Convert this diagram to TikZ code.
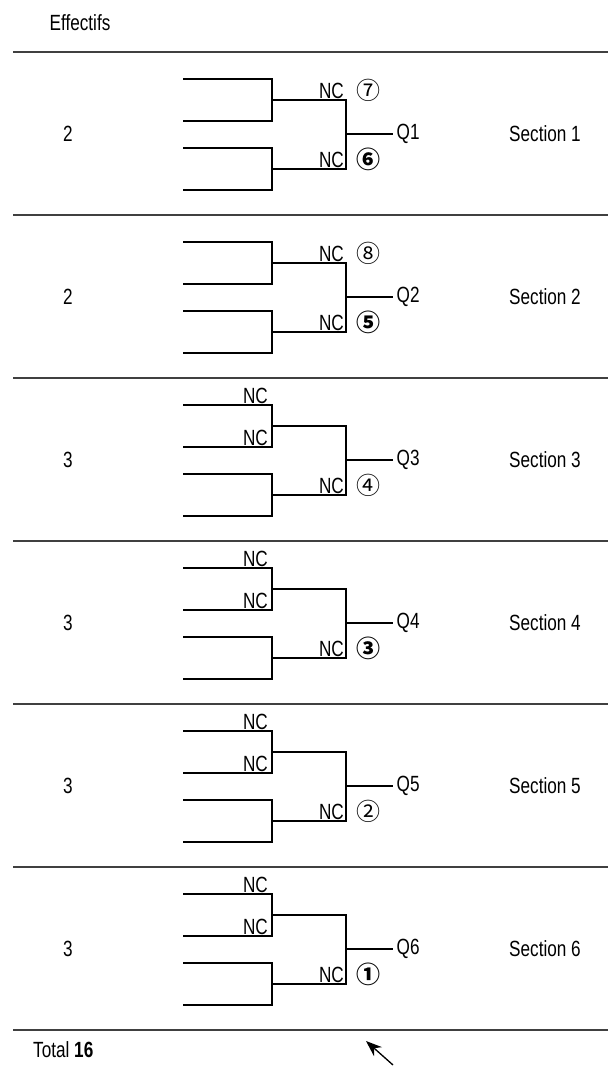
\documentclass[tikz,border=0pt]{standalone}
\usepackage{fontspec}
\setmainfont{Liberation Sans}[FakeStretch=0.78]
\newfontfamily\circfont{Noto Sans CJK JP}
\usetikzlibrary{arrows.meta}

\begin{document}
\begin{tikzpicture}[x=1pt, y=-1pt, font=\fontsize{22}{26}\selectfont,
    bracket/.style={line width=1.3pt},
    sepline/.style={line width=1.2pt, black!75},
    lbl/.style={inner sep=0pt},
    nc/.style={anchor=south east, inner sep=0pt},
    circ/.style={inner sep=0pt, font=\circfont\fontsize{24}{25}\selectfont}]
    \useasboundingbox (0,0) rectangle (608,1067);
    \node[lbl] (head) at (80,23) {Effectifs};
    \foreach \k in {0,...,6}
        \draw[sepline] (13,52+163*\k) -- (608,52+163*\k);
    % brackets of the six sections
    \foreach \k/\eff in {1/2, 2/2, 3/3, 4/3, 5/3, 6/3} {
        \pgfmathsetmacro{\t}{52+163*(\k-1)}
        \coordinate (s\k-a) at (183,\t+27);
        \coordinate (s\k-b) at (183,\t+69);
        \coordinate (s\k-c) at (183,\t+96);
        \coordinate (s\k-d) at (183,\t+138);
        \coordinate (s\k-u) at (272,\t+48);
        \coordinate (s\k-w) at (272,\t+117);
        \coordinate (s\k-m) at (346,\t+82);
        \coordinate (s\k-o) at (393,\t+82);
        \draw[bracket] (s\k-a) -| (s\k-u) |- (s\k-b);
        \draw[bracket] (s\k-c) -| (s\k-w) |- (s\k-d);
        \draw[bracket] (s\k-u) -| (s\k-m) |- (s\k-w);
        \draw[bracket] (s\k-m) -- (s\k-o) node[lbl, right=3pt] (q\k) {Q\k};
        \node[lbl] (eff\k) at (68,\t+82) {\eff};
        \node[lbl] (sec\k) at (545,\t+82) {Section \k};
    }
    % labels of sections 1 and 2
    \foreach \k/\up/\dn in {1/⑦/{\bfseries ⑥}, 2/⑧/{\bfseries ⑤}} {
        \node[nc, xshift=-2pt, yshift=1.5pt] at (s\k-m |- s\k-u) {NC};
        \node[nc, xshift=-2pt, yshift=1.5pt] at (s\k-m |- s\k-w) {NC};
        \node[circ, xshift=22pt, yshift=10pt] at (s\k-m |- s\k-u) {\up};
        \node[circ, xshift=22pt, yshift=10pt] at (s\k-m |- s\k-w) {\dn};
    }
    % labels of sections 3 to 6
    \foreach \k/\dn in {3/④, 4/{\bfseries ③}, 5/②, 6/{\bfseries ①}} {
        \node[nc, xshift=-4pt, yshift=1.5pt] at (s\k-u |- s\k-a) {NC};
        \node[nc, xshift=-4pt, yshift=1.5pt] at (s\k-u |- s\k-b) {NC};
        \node[nc, xshift=-2pt, yshift=1.5pt] at (s\k-m |- s\k-w) {NC};
        \node[circ, xshift=22pt, yshift=10pt] at (s\k-m |- s\k-w) {\dn};
    }
    \node[lbl, anchor=west] (total) at (33,1050) {Total \textbf{16}};
    \coordinate (tail) at (393,1065);
    \coordinate (tip) at (366,1041);
    \draw[-{Stealth[length=16pt, width=12pt]}, line width=1.3pt] (tail) -- (tip);
\end{tikzpicture}
\end{document}
